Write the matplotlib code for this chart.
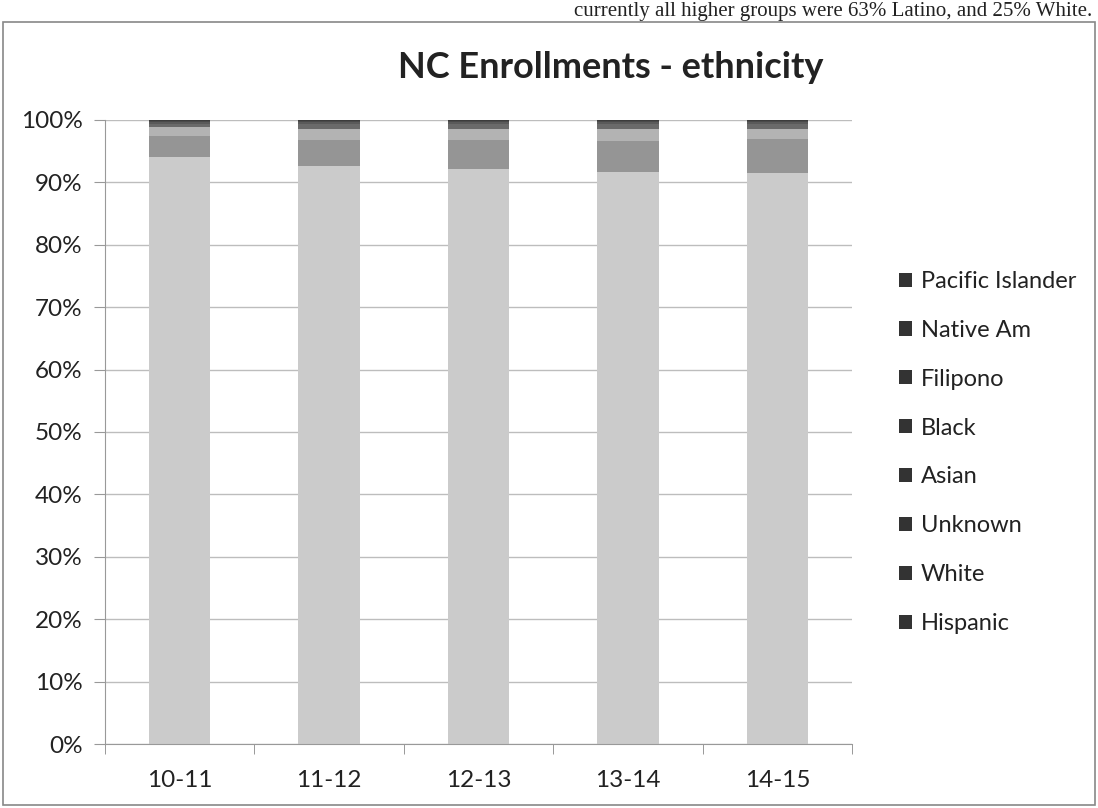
import numpy as np
import matplotlib.pyplot as plt
from matplotlib.patches import Rectangle
from matplotlib.ticker import PercentFormatter, FixedLocator, NullFormatter

plt.rcParams['font.family'] = ['Lato', 'DejaVu Sans']

# data (share of enrollments, %)
years = ['10-11', '11-12', '12-13', '13-14', '14-15']
groups = ['Hispanic', 'White', 'Unknown', 'Asian', 'Black', 'Filipono', 'Native Am', 'Pacific Islander']
hispanic = [94.0, 92.6, 92.2, 91.7, 91.5]
white = [3.5, 4.2, 4.6, 5.0, 5.4]
unknown = [1.3, 1.8, 1.8, 1.8, 1.6]
asian = [0.6, 0.7, 0.7, 0.8, 0.8]
black = [0.3, 0.4, 0.4, 0.4, 0.4]
filipono = [0.15, 0.15, 0.15, 0.15, 0.15]
native_am = [0.1, 0.1, 0.1, 0.1, 0.1]
pacific = [0.05, 0.05, 0.05, 0.05, 0.05]
series = [hispanic, white, unknown, asian, black, filipono, native_am, pacific]
colors = ['#cbcbcb', '#959595', '#b3b3b3', '#6a6a6a', '#5a5a5a', '#4a4a4a', '#3c3c3c', '#333333']

fig = plt.figure(figsize=(10.98, 8.08), dpi=100)
ax = fig.add_axes([0.0956, 0.0792, 0.6804, 0.7723])

x = np.arange(len(years))
bottom = np.zeros(len(years))
handles = []
for name, vals, c in zip(groups, series, colors):
    b = ax.bar(x, vals, width=0.41, bottom=bottom, color=c, label=name, linewidth=0)
    handles.append(b)
    bottom += np.array(vals)

ax.set_xlim(-0.5, len(years) - 0.5)
ax.set_ylim(0, 100)
ax.set_yticks(np.arange(0, 101, 10))
ax.yaxis.set_major_formatter(PercentFormatter(decimals=0))
ax.grid(axis='y', color='#bdbdbd', linewidth=1.0)
ax.set_axisbelow(True)

ax.set_xticks(x)
ax.set_xticklabels(years)
ax.xaxis.set_minor_locator(FixedLocator(np.arange(-0.5, len(years), 1.0)))
ax.xaxis.set_minor_formatter(NullFormatter())
ax.tick_params(axis='x', which='major', length=0, pad=19, labelsize=17.5, colors='#222222')
ax.tick_params(axis='x', which='minor', length=7, color='#888888')
ax.tick_params(axis='y', length=8, pad=8, labelsize=17.5, colors='#222222', color='#999999')

for s in ['top', 'right']:
    ax.spines[s].set_visible(False)
for s in ['left', 'bottom']:
    ax.spines[s].set_color('#999999')

fig.text(0.556, 0.917, 'NC Enrollments - ethnicity', ha='center', va='center',
         fontsize=26, fontweight='bold', color='#222222')

leg = fig.legend(handles[::-1], groups[::-1], loc='center left',
                 bbox_to_anchor=(0.799, 0.44), frameon=False, fontsize=17,
                 handlelength=0.55, handleheight=0.55, handletextpad=0.4,
                 labelspacing=1.18, labelcolor='#222222')
for h in leg.legend_handles:
    h.set_color('#333333')

# outer chart border
fig.patches.append(Rectangle((0.003, 0.004), 0.994, 0.969, transform=fig.transFigure,
                             fill=False, edgecolor='#888888', linewidth=1.2))

# line of page text above the chart
fig.text(0.995, 0.986, 'currently all higher groups were 63% Latino, and 25% White.',
         ha='right', va='center', fontsize=15, family=['Liberation Serif'], color='#222222')

fig.savefig('out.png', dpi=100)
